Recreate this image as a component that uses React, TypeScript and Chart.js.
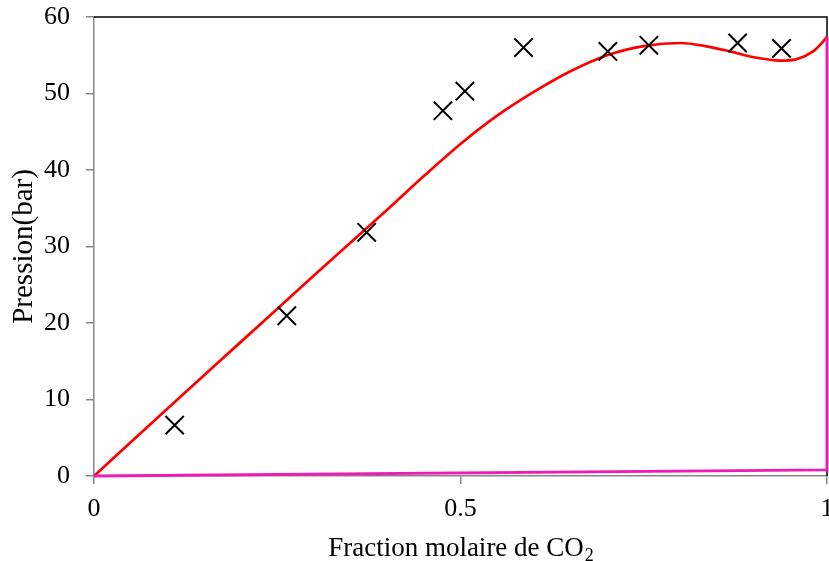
import React, { useEffect, useRef } from "react";
import { Chart, registerables } from "chart.js";

Chart.register(...registerables);

// Experimental points (x = CO2 mole fraction, y = pressure in bar)
const expX = [0.11, 0.263, 0.372, 0.476, 0.506, 0.586, 0.701, 0.757, 0.878, 0.938];
const expP = [6.65, 20.95, 31.85, 47.75, 50.3, 56.0, 55.5, 56.3, 56.6, 55.9];

// Model curve (red)
const modelX = [0, 0.1, 0.2, 0.3, 0.4, 0.45, 0.5, 0.55, 0.6, 0.65, 0.7, 0.75, 0.8, 0.834, 0.868, 0.902, 0.936, 0.959, 0.981, 0.993, 1.0];
const modelP = [0, 8.8, 17.5, 26.2, 34.8, 39.2, 43.4, 47.1, 50.2, 52.9, 55.0, 56.2, 56.6, 56.2, 55.5, 54.7, 54.3, 54.5, 55.5, 56.6, 57.4];

// Second curve (magenta)
const vapX = [0, 1, 1];
const vapP = [0, 0.8, 57.4];

// Axis ticks
const xTicks = [0, 0.5, 1];
const xTickLabels = ["0", "0.5", "1"];
const yMin = 0;
const yMax = 60;
const yStep = 10;

const xTitleMain = "Fraction molaire de CO";
const xTitleSub = "2";
const yTitle = "Pression(bar)";

const FONT = "'Liberation Serif', 'Times New Roman', serif";
const GRAY = "#868686";

const toPts = (xs: number[], ys: number[]) => xs.map((x, i) => ({ x, y: ys[i] }));

export default function App() {
  const ref = useRef<HTMLCanvasElement | null>(null);

  useEffect(() => {
    if (!ref.current) return;

    const framePlugin = {
      id: "frame",
      beforeDatasetsDraw(chart: any) {
        const { ctx, chartArea } = chart;
        ctx.save();
        ctx.strokeStyle = "#000";
        ctx.lineWidth = 1.5;
        ctx.beginPath();
        ctx.moveTo(chartArea.left, chartArea.top);
        ctx.lineTo(chartArea.right, chartArea.top);
        ctx.lineTo(chartArea.right, chartArea.bottom);
        ctx.stroke();
        ctx.restore();
      },
      afterDraw(chart: any) {
        const { ctx, chartArea } = chart;
        ctx.save();
        ctx.fillStyle = "#000";
        ctx.textBaseline = "alphabetic";
        ctx.font = `27px ${FONT}`;
        const wMain = ctx.measureText(xTitleMain).width;
        ctx.font = `18px ${FONT}`;
        const wSub = ctx.measureText(xTitleSub).width;
        const total = wMain + wSub;
        const cx = (chartArea.left + chartArea.right) / 2;
        const x0 = cx - total / 2;
        const baseY = 556;
        ctx.font = `27px ${FONT}`;
        ctx.textAlign = "left";
        ctx.fillText(xTitleMain, x0, baseY);
        ctx.font = `18px ${FONT}`;
        ctx.fillText(xTitleSub, x0 + wMain + 1, baseY + 5);
        ctx.restore();
      },
    };

    const chart = new Chart(ref.current, {
      type: "scatter",
      data: {
        datasets: [
          {
            label: "exp",
            data: toPts(expX, expP),
            showLine: false,
            pointStyle: "crossRot",
            pointRadius: 13,
            pointHoverRadius: 13,
            borderColor: "#000",
            backgroundColor: "#000",
            borderWidth: 2,
          },
          {
            label: "vap",
            type: "line",
            data: toPts(vapX, vapP),
            borderColor: "#EE1CB4",
            borderWidth: 3,
            pointRadius: 0,
            tension: 0,
            fill: false,
            clip: false,
          } as any,
          {
            label: "model",
            type: "line",
            data: toPts(modelX, modelP),
            borderColor: "#FF0000",
            borderWidth: 2.7,
            pointRadius: 0,
            cubicInterpolationMode: "monotone",
            fill: false,
          } as any,
        ],
      },
      options: {
        responsive: false,
        animation: false,
        devicePixelRatio: 1,
        events: [],
        layout: { padding: { left: 0, right: 0, top: 17, bottom: 0 } },
        plugins: {
          legend: { display: false },
          tooltip: { enabled: false },
        },
        scales: {
          x: {
            type: "linear",
            min: 0,
            max: 1,
            afterBuildTicks: (s: any) => {
              s.ticks = xTicks.map((v) => ({ value: v }));
            },
            afterFit: (s: any) => {
              s.height = 85;
              s.paddingLeft = 0;
              s.paddingRight = 0;
              s.paddingTop = 0;
              s.paddingBottom = 0;
            },
            ticks: {
              color: "#000",
              font: { family: FONT, size: 26, lineHeight: 1 },
              padding: 12,
              maxRotation: 0,
              autoSkip: false,
              callback: (v: any) => {
                const i = xTicks.indexOf(Number(v));
                return i >= 0 ? xTickLabels[i] : "";
              },
            },
            grid: {
              drawOnChartArea: false,
              drawTicks: true,
              tickLength: 8,
              color: GRAY,
              lineWidth: 1.5,
            },
            border: { display: true, color: GRAY, width: 1.5 },
            title: { display: false },
          },
          y: {
            type: "linear",
            min: yMin,
            max: yMax,
            afterFit: (s: any) => {
              s.width = 94;
              s.paddingLeft = 0;
              s.paddingRight = 0;
              s.paddingTop = 0;
              s.paddingBottom = 0;
            },
            ticks: {
              stepSize: yStep,
              color: "#000",
              font: { family: FONT, size: 26, lineHeight: 1 },
              padding: 16,
            },
            grid: {
              drawOnChartArea: false,
              drawTicks: true,
              tickLength: 8,
              color: GRAY,
              lineWidth: 1.5,
            },
            border: { display: true, color: GRAY, width: 1.5 },
            title: {
              display: true,
              text: yTitle,
              color: "#000",
              font: { family: FONT, size: 29, lineHeight: 1 },
              padding: { top: 10, bottom: 0 },
            },
          },
        },
      },
      plugins: [framePlugin],
    } as any);

    return () => chart.destroy();
  }, []);

  return (
    <div
      style={{
        position: "fixed",
        left: 0,
        top: 0,
        width: 829,
        height: 561,
        overflow: "hidden",
        background: "#fff",
      }}
    >
      <canvas ref={ref} width={842} height={561} style={{ display: "block", width: 842, height: 561 }} />
    </div>
  );
}
